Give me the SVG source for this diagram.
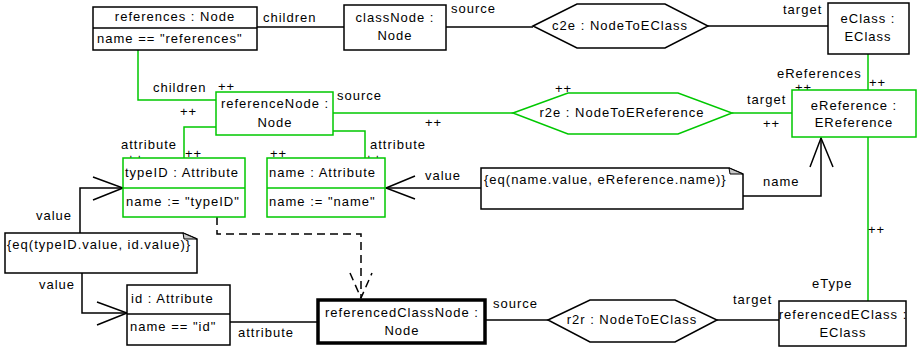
<svg xmlns="http://www.w3.org/2000/svg" width="919" height="349" viewBox="0 0 919 349">
  <style>
    text { font-family: "Liberation Sans", Arial, sans-serif; font-size: 13px; letter-spacing: 1px; fill: #000; }
    .c { text-anchor: middle; }
    .box { fill: #fff; stroke: #000; stroke-width: 1.5; }
    .gbox { fill: #fff; stroke: #00c800; stroke-width: 1.5; }
    .bold { fill: #fff; stroke: #000; stroke-width: 3.5; }
    .ln { fill: none; stroke: #000; stroke-width: 1.5; }
    .gln { fill: none; stroke: #00c800; stroke-width: 1.5; }
    .dash { fill: none; stroke: #000; stroke-width: 1.5; stroke-dasharray: 8 5; }
    .fold { fill: #c8c8c8; stroke: #000; stroke-width: 1; }
  </style>

  <!-- connectors and their role labels -->
  <g id="connectors">
    <!-- black links -->
    <path class="ln" d="M257,27 H344"/>
    <path class="ln" d="M446,27 H533"/>
    <path class="ln" d="M708,26 H828"/>
    <path class="ln" d="M230,322 H318"/>
    <path class="ln" d="M485,320 H548"/>
    <path class="ln" d="M717,320 H779"/>

    <!-- green (created) links -->
    <path class="gln" d="M138,50 V100 H216"/>
    <path class="gln" d="M333,113 H513"/>
    <path class="gln" d="M732,113 H792"/>
    <path class="gln" d="M868,54 V90"/>
    <path class="gln" d="M868,137 V301"/>
    <path class="gln" d="M216,127 H184 V158"/>
    <path class="gln" d="M333,131 H365 V158"/>

    <!-- constraint arrows -->
    <path class="ln" d="M80,233 V188 H123"/>
    <path class="ln" d="M93,177 L123,188 L93,200"/>
    <path class="ln" d="M82,273 V313 H127"/>
    <path class="ln" d="M97,302 L127,313 L97,325"/>
    <path class="ln" d="M481,188 H386"/>
    <path class="ln" d="M415,176 L386,188 L415,199"/>
    <path class="ln" d="M743,196 H821 V138"/>
    <path class="ln" d="M810,167 L821,138 L833,167"/>

    <!-- dashed dependency -->
    <path class="dash" d="M217,217 V234 H361 V298"/>
    <path class="dash" d="M350,273 L361,298 L372,273"/>

    <!-- labels -->
    <text x="263" y="22">children</text>
    <text x="451" y="13">source</text>
    <text x="783" y="14">target</text>
    <text x="777" y="78">eReferences</text>
    <text x="795" y="92">++</text>
    <text x="869" y="87">++</text>
    <text x="153" y="92">children</text>
    <text x="218" y="91">++</text>
    <text x="180" y="116">++</text>
    <text x="337" y="100">source</text>
    <text x="555" y="93">++</text>
    <text x="425" y="127">++</text>
    <text x="747" y="104">target</text>
    <text x="763" y="128">++</text>
    <text x="121" y="149">attribute</text>
    <text x="127" y="163">++</text>
    <text x="185" y="158">++</text>
    <text x="270" y="158">++</text>
    <text x="370" y="149">attribute</text>
    <text x="365" y="163">++</text>
    <text x="425" y="180">value</text>
    <text x="763" y="186">name</text>
    <text x="36" y="220">value</text>
    <text x="39" y="289">value</text>
    <text x="868" y="234">++</text>
    <text x="812" y="288">eType</text>
    <text x="733" y="304">target</text>
    <text x="493" y="308">source</text>
    <text x="238" y="337">attribute</text>
  </g>

  <g id="references">
    <rect class="box" x="93" y="7" width="164" height="43"/>
    <path class="ln" d="M93,28 H257"/>
    <text class="c" x="175" y="21">references : Node</text>
    <text x="97" y="43">name == "references"</text>
  </g>

  <g id="classNode">
    <rect class="box" x="344" y="5" width="102" height="45"/>
    <text class="c" x="395" y="22">classNode :</text>
    <text class="c" x="395" y="40">Node</text>
  </g>

  <g id="c2e">
    <polygon class="box" points="533,26 577,4 665,4 708,26 665,48 577,48"/>
    <text class="c" x="620" y="30">c2e : NodeToEClass</text>
  </g>

  <g id="eClass">
    <rect class="box" x="828" y="3" width="81" height="51"/>
    <text class="c" x="868" y="23">eClass :</text>
    <text class="c" x="868" y="41">EClass</text>
  </g>

  <g id="referenceNode">
    <rect class="gbox" x="216" y="92" width="117" height="43"/>
    <text class="c" x="275" y="108">referenceNode :</text>
    <text class="c" x="275" y="127">Node</text>
  </g>

  <g id="r2e">
    <polygon class="gbox" points="513,113 568,93 678,93 732,113 678,134 568,134"/>
    <text class="c" x="622" y="117">r2e : NodeToEReference</text>
  </g>

  <g id="eReference">
    <rect class="gbox" x="792" y="90" width="124" height="47"/>
    <text class="c" x="854" y="110">eReference :</text>
    <text class="c" x="854" y="127">EReference</text>
  </g>

  <g id="typeID">
    <rect class="gbox" x="123" y="158" width="122" height="59"/>
    <path class="gln" d="M123,188 H245"/>
    <text x="125" y="177">typeID : Attribute</text>
    <text x="126" y="206">name := "typeID"</text>
  </g>

  <g id="name">
    <rect class="gbox" x="267" y="158" width="118" height="59"/>
    <path class="gln" d="M267,188 H385"/>
    <text x="269" y="177">name : Attribute</text>
    <text x="269" y="206">name := "name"</text>
  </g>

  <g id="nameConstraint">
    <path class="box" d="M481,168 H729 L743,174 V209 H481 Z"/>
    <polygon class="fold" points="729,168 743,174 730,174"/>
    <text x="484" y="184">{eq(name.value, eReference.name)}</text>
  </g>

  <g id="idConstraint">
    <path class="box" d="M5,233 H183 L197,239 V273 H5 Z"/>
    <polygon class="fold" points="183,233 197,239 184,239"/>
    <text x="7" y="249">{eq(typeID.value, id.value)}</text>
  </g>

  <g id="id">
    <rect class="box" x="127" y="285" width="103" height="60"/>
    <path class="ln" d="M127,314 H230"/>
    <text x="131" y="303">id : Attribute</text>
    <text x="130" y="331">name == "id"</text>
  </g>

  <g id="referencedClassNode">
    <rect class="bold" x="318" y="300" width="167" height="43"/>
    <text class="c" x="402" y="317">referencedClassNode :</text>
    <text class="c" x="402" y="335">Node</text>
  </g>

  <g id="r2r">
    <polygon class="box" points="548,320 590,300 675,300 717,320 675,342 590,342"/>
    <text class="c" x="632" y="324">r2r : NodeToEClass</text>
  </g>

  <g id="referencedEClass">
    <rect class="box" x="779" y="301" width="127" height="45"/>
    <text class="c" x="843" y="319">referencedEClass :</text>
    <text class="c" x="843" y="337">EClass</text>
  </g>
</svg>
